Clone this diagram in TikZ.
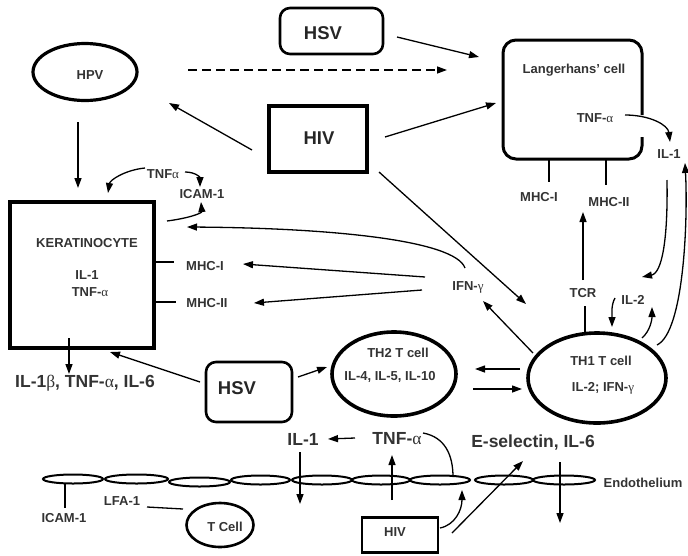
\documentclass[tikz,border=0pt]{standalone}
\usepackage{fontspec}
\setmainfont{Liberation Sans}
\newfontfamily\grk{Liberation Serif}
\newcommand{\myalpha}{{\grk\mdseries α}}
\newcommand{\mygamma}{{\grk\mdseries γ}}
\newcommand{\mybeta}{{\grk\mdseries β}}
\usetikzlibrary{arrows.meta,shapes.geometric}
\tikzset{
  sm/.style={font=\bfseries\fontsize{13}{15}\selectfont, text=black!80, inner sep=0pt},
  md/.style={font=\bfseries\fontsize{17.5}{19}\selectfont, text=black!80, inner sep=0pt},
  bg/.style={font=\bfseries\fontsize{18.5}{20}\selectfont, text=black!85, inner sep=0pt},
  arr/.style={-{Triangle[length=10pt,width=7pt]}, line width=1.3pt},
  ln/.style={line width=1.3pt},
  cell/.style={draw, ellipse, line width=2pt, inner sep=0pt, minimum height=9pt},
}
\begin{document}
\begin{tikzpicture}[x=1pt,y=-1pt]
\useasboundingbox (0,0) rectangle (688,555);
% ---- shapes
\node[draw, line width=2.6pt, rounded corners=10pt, minimum width=103pt, minimum height=46pt] (hsvA) at (331.5,31) {};
\node[bg] (hsvAt) at (323,33) {HSV};
\node[draw, ellipse, line width=3.2pt, minimum width=104pt, minimum height=57pt] (hpv) at (85,72) {};
\node[sm] (hpvt) at (90,75) {HPV};
\node[draw, line width=3.2pt, minimum width=98pt, minimum height=66pt] (hivA) at (318,139) {};
\node[bg] (hivAt) at (319,138) {HIV};
% Langerhans box (gap on right side)
\node[minimum width=139pt, minimum height=119pt] (lc) at (572.5,99.5) {};
\draw[line width=3pt, rounded corners=13pt] (642,137) -- (642,159) -- (503,159) -- (503,40) -- (642,40) -- (642,115);
\node[sm] (lct) at (574,70) {Langerhans' cell};
\node[sm] (lctnf) at (595,118) {TNF-\myalpha};
\node[sm] (il1r) at (669,154) {IL-1};
\node[sm] (mhc1r) at (539,197) {MHC-I};
\node[sm] (mhc2r) at (609,202) {MHC-II};
\node[sm] (tcr) at (583,293) {TCR};
\node[sm] (il2) at (633,300) {IL-2};
\node[sm] (ifng) at (468,287) {IFN-\mygamma};
% keratinocyte
\node[draw, line width=3.5pt, minimum width=144pt, minimum height=146pt] (kc) at (82,275) {};
\node[sm] (kct) at (87,243) {KERATINOCYTE};
\node[sm] (kcil) at (87,275) {IL-1};
\node[sm] (kctnf) at (90,292) {TNF-\myalpha};
\node[sm] (mhc1l) at (205,266) {MHC-I};
\node[sm] (mhc2l) at (207,303) {MHC-II};
\node[sm] (tnfk) at (163,174) {TNF\myalpha};
\node[sm] (icamk) at (202,194) {ICAM-1};
\node[md] (kcout) at (85,383) {IL-1\mybeta, TNF-\myalpha, IL-6};
% T cells
\node[draw, ellipse, line width=3.6pt, minimum width=138pt, minimum height=90pt] (th1) at (597,378) {};
\node[sm] (th1a) at (601,361) {TH1 T cell};
\node[sm] (th1b) at (603,388) {IL-2; IFN-\mygamma};
\node[draw, ellipse, line width=3.6pt, minimum width=124pt, minimum height=84pt] (th2) at (394,374) {};
\node[sm] (th2a) at (398,353) {TH2 T cell};
\node[sm] (th2b) at (390,377) {IL-4, IL-5, IL-10};
\node[draw, line width=2.6pt, rounded corners=10pt, minimum width=86pt, minimum height=60pt] (hsvB) at (249,392) {};
\node[bg] (hsvBt) at (237,388) {HSV};
% bottom
\node[md] (il1b) at (303,439) {IL-1};
\node[md] (tnfb) at (397,439) {TNF-\myalpha};
\node[md] (esel) at (533,443) {E-selectin, IL-6};
\node[sm] (endo) at (643,483) {Endothelium};
\node[draw, line width=2.6pt, minimum width=76pt, minimum height=35pt] (hivB) at (400,535) {};
\node[sm] (hivBt) at (395,532) {HIV};
\node[sm] (icamb) at (64,518) {ICAM-1};
\node[sm] (lfa) at (122,501) {LFA-1};
\node[draw, ellipse, line width=2.6pt, minimum width=67pt, minimum height=44pt] (tc) at (220,525) {};
\node[sm] (tct) at (225,527) {T Cell};
% endothelium cells
\node[cell, minimum width=60pt] (e1) at (73,479) {};
\node[cell, minimum width=63pt] (e2) at (136.5,479) {};
\node[cell, minimum width=61pt] (e3) at (199.5,482) {};
\node[cell, minimum width=59pt] (e4) at (260.5,480) {};
\node[cell, minimum width=60pt] (e5) at (322,480) {};
\node[cell, minimum width=58pt] (e6) at (381,480) {};
\node[cell, minimum width=60pt] (e7) at (440,480) {};
\node[cell, minimum width=58pt] (e8) at (504,480) {};
\node[cell, minimum width=62pt] (e9) at (564,480) {};
% ---- coordinates
\coordinate (c1) at (188,70);  \coordinate (c2) at (447,70);
\coordinate (c3) at (397,37);  \coordinate (c4) at (479,57);
\coordinate (c5) at (252,150); \coordinate (c6) at (169,103);
\coordinate (c7) at (385,137); \coordinate (c8) at (496,103);
\coordinate (c9) at (379,172); \coordinate (c10) at (526,304);
\coordinate (c11) at (78,122); \coordinate (c12) at (78,188);
\coordinate (c13) at (145,168); \coordinate (c14) at (108,193);
\coordinate (c15) at (185,172); \coordinate (c16) at (200,187);
\coordinate (c17) at (167,221); \coordinate (c18) at (201,202);
\coordinate (c19) at (465,268); \coordinate (c20) at (187,227);
\coordinate (c21) at (425,277); \coordinate (c22) at (243,264);
\coordinate (c23) at (422,290); \coordinate (c24) at (254,303);
\coordinate (c25) at (533,353); \coordinate (c26) at (483,301);
\coordinate (c27) at (583,280); \coordinate (c28) at (583,212);
\coordinate (c29) at (585,306); \coordinate (c30) at (585,333);
\coordinate (c31) at (615,298); \coordinate (c32) at (612,327);
\coordinate (c33) at (642,338); \coordinate (c34) at (652,307);
\coordinate (c35) at (625,115); \coordinate (c36) at (670,142);
\coordinate (c37) at (667,180); \coordinate (c38) at (642,277);
\coordinate (c39) at (657,345); \coordinate (c40) at (685,163);
\coordinate (c41) at (520,369); \coordinate (c42) at (475,369);
\coordinate (c43) at (473,389); \coordinate (c44) at (522,389);
\coordinate (c45) at (298,377); \coordinate (c46) at (327,367);
\coordinate (c47) at (200,382); \coordinate (c48) at (110,352);
\coordinate (c49) at (69,338); \coordinate (c50) at (69,374);
\coordinate (c51) at (355,438); \coordinate (c52) at (328,439);
\coordinate (c53) at (300,452); \coordinate (c54) at (300,504);
\coordinate (c55) at (392,500); \coordinate (c56) at (392,455);
\coordinate (c57) at (423,433); \coordinate (c58) at (453,477);
\coordinate (c59) at (440,528); \coordinate (c60) at (462,490);
\coordinate (c61) at (452,533); \coordinate (c62) at (523,461);
\coordinate (c63) at (560,462); \coordinate (c64) at (560,523);
\coordinate (c65) at (65,484); \coordinate (c66) at (65,508);
\coordinate (c67) at (147,507); \coordinate (c68) at (183,509);
\coordinate (c69) at (549,159); \coordinate (c70) at (549,182);
\coordinate (c71) at (606,159); \coordinate (c72) at (606,185);
\coordinate (c73) at (154,262); \coordinate (c74) at (174,262);
\coordinate (c75) at (154,302); \coordinate (c76) at (176,302);
% ---- connectors
\draw[arr, dash pattern=on 9pt off 5pt] (c1) -- (c2);
\draw[arr] (c3) -- (c4);
\draw[arr] (c5) -- (c6);
\draw[arr] (c7) -- (c8);
\draw[arr] (c9) -- (c10);
\draw[arr] (c11) -- (c12);
\draw[arr] (c13) .. controls (125,170) and (110,180) .. (c14);
\draw[arr] (c15) .. controls (195,172) and (200,177) .. (c16);
\draw[arr] (c17) .. controls (190,218) and (202,213) .. (c18);
\draw[arr] (c19) .. controls (455,240) and (330,228) .. (c20);
\draw[arr] (c21) -- (c22);
\draw[arr] (c23) -- (c24);
\draw[arr] (c25) -- (c26);
\draw[arr] (c27) -- (c28);
\draw[ln] (c29) -- (c30);
\draw[arr] (c31) .. controls (611,305) and (612,314) .. (c32);
\draw[arr] (c33) .. controls (650,331) and (652,320) .. (c34);
\draw[arr] (c35) .. controls (650,115) and (668,125) .. (c36);
\draw[arr] (c37) .. controls (668,240) and (662,273) .. (c38);
\draw[arr] (c39) .. controls (684,332) and (688,220) .. (c40);
\draw[arr] (c41) -- (c42);
\draw[arr] (c43) -- (c44);
\draw[arr] (c45) -- (c46);
\draw[arr] (c47) -- (c48);
\draw[arr] (c49) -- (c50);
\draw[arr] (c51) -- (c52);
\draw[arr] (c53) -- (c54);
\draw[arr] (c55) -- (c56);
\draw[ln] (c57) .. controls (445,437) and (453,455) .. (c58);
\draw[arr] (c59) .. controls (455,525) and (462,510) .. (c60);
\draw[arr] (c61) -- (c62);
\draw[arr] (c63) -- (c64);
\draw[ln] (c65) -- (c66);
\draw[ln] (c67) -- (c68);
\draw[ln] (c69) -- (c70);
\draw[ln] (c71) -- (c72);
\draw[ln] (c73) -- (c74);
\draw[ln] (c75) -- (c76);
\end{tikzpicture}
\end{document}
